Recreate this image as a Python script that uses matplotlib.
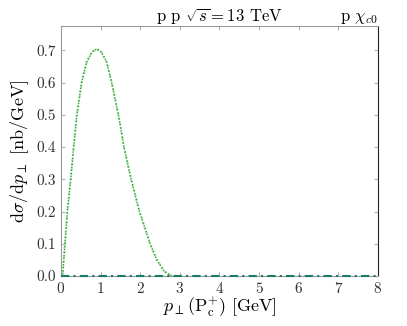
import numpy as np
import matplotlib
matplotlib.use("Agg")
import matplotlib.pyplot as plt

plt.rcParams.update({"font.family": "serif", "font.serif": ["cmr10", "DejaVu Serif"],
                     "mathtext.fontset": "cm", "axes.formatter.use_mathtext": True,
                     "font.size": 11})

# p_perp [GeV] and dsigma/dp_perp [nb/GeV]
pt = [0.0, 0.04, 0.10, 0.16, 0.245, 0.32, 0.40, 0.52, 0.65, 0.78, 0.90,
      1.02, 1.15, 1.28, 1.45, 1.59, 1.77, 1.98, 2.25, 2.42, 2.60, 2.75, 2.83]
xs = [0.0, 0.0, 0.10, 0.20, 0.30, 0.40, 0.50, 0.60, 0.665, 0.695, 0.705,
      0.695, 0.665, 0.60, 0.50, 0.40, 0.30, 0.20, 0.10, 0.05, 0.015, 0.003, 0.0]
# second (flat) channel
pt_flat = [0.0, 8.0]
xs_flat = [0.0, 0.0]

fig = plt.figure(figsize=(4.07, 3.26), dpi=100)
ax = fig.add_axes([61/407, 1-276/326, 317/407, 250/326])

ax.plot(pt, xs, color="#9be39b", lw=1.6, ls=(0, (1, 1.2)))
ax.plot(pt, xs, color="#2e9a2e", lw=1.0, ls=(0, (1, 1.2)))
ax.plot(pt_flat, xs_flat, color="#1a7a68", lw=1.5, ls=(0, (4, 2, 1, 2)),
        zorder=3, clip_on=False)

ax.set_xlim(0, 8)
ax.set_ylim(0, 0.776)
ax.set_xticks(range(0, 9))
ax.set_yticks(np.arange(0, 0.75, 0.1))
ax.yaxis.set_major_formatter(matplotlib.ticker.FormatStrFormatter("%.1f"))
ax.tick_params(direction="in", top=True, right=True, length=3, width=0.5,
               color="#888888", labelsize=11, labelcolor="#333333")
for s in ["left", "bottom", "top"]:
    ax.spines[s].set_color("#999999")
ax.spines["right"].set_color("#222222")

ax.set_xlabel(r"$p_{\perp}(\mathrm{P}_\mathrm{c}^{+})$ [GeV]", fontsize=13, labelpad=0)
ax.set_ylabel(r"d$\sigma$/d$p_{\perp}$ [nb/GeV]", fontsize=13, labelpad=4)
ax.text(0.5, 1.0, r"p p $\sqrt{s} = 13$ TeV", transform=ax.transAxes,
        ha="center", va="bottom", fontsize=12)
ax.text(1.0, 1.0, r"p $\chi_{c0}$", transform=ax.transAxes,
        ha="right", va="bottom", fontsize=12)

fig.savefig("out.png", dpi=100)
